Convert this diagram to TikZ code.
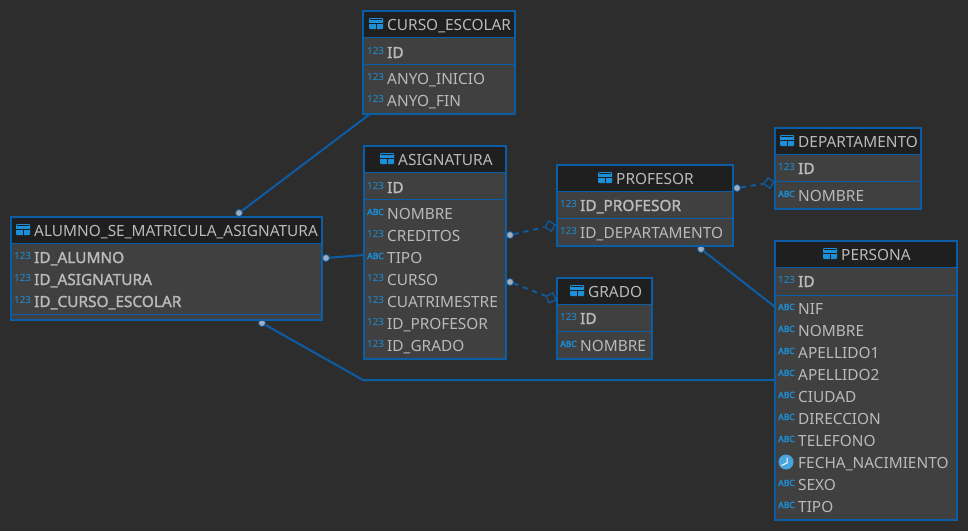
\documentclass[tikz,border=0pt]{standalone}
\usepackage{fontspec}
\setmainfont{Noto Sans}
\newfontfamily\fakebold[FakeBold=1.6]{Noto Sans}
\newfontfamily\iconbold[FakeBold=2.6]{Noto Sans}
\usetikzlibrary{shapes.geometric}
\definecolor{bgc}{HTML}{2D2D2D}
\definecolor{bodyc}{HTML}{404040}
\definecolor{headc}{HTML}{1F1F1F}
\definecolor{linec}{HTML}{0B5DA6}
\definecolor{iconc}{HTML}{1B8FD8}
\definecolor{txtc}{HTML}{BABABA}
\definecolor{dotc}{HTML}{A3ACB8}
\tikzset{
  x=1pt,y=-1pt,
  tablebody/.style={draw=linec,line width=2pt,fill=bodyc,rectangle,inner sep=0pt},
  head/.style={fill=headc,draw=none},
  sep/.style={draw=linec,line width=.8pt},
  ftext/.style={anchor=base west,inner sep=0pt,text=txtc,font=\fontsize{15.4}{17}\selectfont},
  fkey/.style={ftext,font=\fontsize{15.4}{17}\selectfont\fakebold},
  numicon/.style={anchor=base west,inner sep=0pt,text=iconc,font=\fontsize{9.8}{12}\selectfont},
  abcicon/.style={anchor=base west,inner sep=0pt,text=iconc,font=\fontsize{8.6}{10}\selectfont\iconbold},
  conn/.style={draw=linec,line width=2pt},
  dashconn/.style={conn,dash pattern=on 5pt off 5pt},
  enddot/.style={circle,fill=dotc,draw=linec,line width=.8pt,inner sep=0pt,minimum size=7pt},
  enddiam/.style={diamond,draw=linec,line width=1.2pt,fill=bgc,inner sep=0pt,minimum size=11pt},
}
% id x1 y1 x2 y2 yheader title-icon-x title
\newcommand{\ftable}[8]{%
  \node[tablebody,minimum width={#4-#2},minimum height={#5-#3}] (#1) at ({(#2+#4)/2},{(#3+#5)/2}) {};
  \fill[head] (#2+1,#3+1) rectangle (#4-1,#6);
  \draw[sep] (#2,#6) -- (#4,#6);
  \draw[linec,line width=2pt] (#2,#3) rectangle (#4,#5);
  \fill[iconc,rounded corners=1pt] (#7,#3+7) rectangle (#7+14,#3+18);
  \draw[headc,line width=.8pt] (#7,#3+12.5) -- (#7+14,#3+12.5) (#7+7,#3+12.5) -- (#7+7,#3+18);
  \fill[headc] (#7+1,#3+8.3) rectangle (#7+13,#3+9.3);
  \node[ftext] (#1-title) at (#7+18,#3+19) {#8};
}
\newcommand{\fsep}[3]{\draw[sep] (#1,#3) -- (#2,#3);}
\newcommand{\fnum}[5]{%
  \node[numicon] (#1-i) at (#2,#3+2) {123};
  \node[#4] (#1) at (#2+20,#3+6) {#5};}
\newcommand{\fabc}[5]{%
  \node[abcicon] (#1-i) at (#2,#3+2) {ABC};
  \node[#4] (#1) at (#2+20,#3+6) {#5};}
\begin{document}
\begin{tikzpicture}
\useasboundingbox (0,0) rectangle (968,531);
\fill[bgc] (0,0) rectangle (968,531);

% connector ends
\node[enddot] (d1) at (239,213) {};
\coordinate (e1) at (370,114);
\node[enddot] (d2) at (326,258) {};
\coordinate (e2) at (364,255);
\node[enddot] (d3) at (262,323) {};
\coordinate (b3) at (363,380);
\coordinate (e3) at (775,380);
\node[enddot] (d4) at (510,235) {};
\node[enddiam,rotate=13] (m4) at (550,226) {};
\node[enddot] (d5) at (510,282) {};
\node[enddiam,rotate=-21] (m5) at (551,298) {};
\node[enddot] (d6) at (737,188) {};
\node[enddiam,rotate=9] (m6) at (769,183) {};
\node[enddot] (d7) at (701,249) {};
\coordinate (e7) at (775,307);

\draw[conn] (d1) -- (e1);
\draw[conn] (d2) -- (e2);
\draw[conn] (d3) -- (b3) -- (e3);
\draw[dashconn] (d4) -- (m4);
\draw[dashconn] (d5) -- (m5);
\draw[dashconn] (d6) -- (m6);
\draw[conn] (d7) -- (e7);

% CURSO_ESCOLAR
\ftable{curso}{363}{11}{515}{114}{37}{369}{CURSO\_ESCOLAR}
\fsep{363}{515}{64}
\fnum{curso-1}{367}{52}{fkey}{ID}
\fnum{curso-2}{367}{78}{ftext}{ANYO\_INICIO}
\fnum{curso-3}{367}{100}{ftext}{ANYO\_FIN}

% ASIGNATURA
\ftable{asig}{364}{146}{506}{359}{172}{380}{ASIGNATURA}
\fsep{364}{506}{199}
\fnum{asig-1}{367}{187}{fkey}{ID}
\fabc{asig-2}{367}{213}{ftext}{NOMBRE}
\fnum{asig-3}{367}{235}{ftext}{CREDITOS}
\fabc{asig-4}{367}{257}{ftext}{TIPO}
\fnum{asig-5}{367}{279}{ftext}{CURSO}
\fnum{asig-6}{367}{301}{ftext}{CUATRIMESTRE}
\fnum{asig-7}{367}{323}{ftext}{ID\_PROFESOR}
\fnum{asig-8}{367}{345}{ftext}{ID\_GRADO}

% ALUMNO_SE_MATRICULA_ASIGNATURA
\ftable{alumno}{11}{217}{322}{320}{243}{16}{ALUMNO\_SE\_MATRICULA\_ASIGNATURA}
\fsep{11}{322}{314}
\fnum{alumno-1}{14}{257}{fkey}{ID\_ALUMNO}
\fnum{alumno-2}{14}{279}{fkey}{ID\_ASIGNATURA}
\fnum{alumno-3}{14}{301}{fkey}{ID\_CURSO\_ESCOLAR}

% PROFESOR
\ftable{prof}{557}{165}{733}{246}{191}{598}{PROFESOR}
\fsep{557}{733}{218}
\fnum{prof-1}{560}{205}{fkey}{ID\_PROFESOR}
\fnum{prof-2}{560}{232}{ftext}{ID\_DEPARTAMENTO}

% GRADO
\ftable{grado}{557}{278}{652}{359}{304}{570}{GRADO}
\fsep{557}{652}{331}
\fnum{grado-1}{560}{318}{fkey}{ID}
\fabc{grado-2}{560}{345}{ftext}{NOMBRE}

% DEPARTAMENTO
\ftable{depto}{775}{128}{921}{209}{154}{780}{DEPARTAMENTO}
\fsep{775}{921}{181}
\fnum{depto-1}{778}{168}{fkey}{ID}
\fabc{depto-2}{778}{195}{ftext}{NOMBRE}

% PERSONA
\ftable{persona}{775}{241}{957}{520}{267}{823}{PERSONA}
\fsep{775}{957}{295}
\fnum{persona-1}{778}{281}{fkey}{ID}
\fabc{persona-2}{778}{308}{ftext}{NIF}
\fabc{persona-3}{778}{330}{ftext}{NOMBRE}
\fabc{persona-4}{778}{352}{ftext}{APELLIDO1}
\fabc{persona-5}{778}{374}{ftext}{APELLIDO2}
\fabc{persona-6}{778}{396}{ftext}{CIUDAD}
\fabc{persona-7}{778}{418}{ftext}{DIRECCION}
\fabc{persona-8}{778}{440}{ftext}{TELEFONO}
\node[ftext] (persona-9) at (798,468) {FECHA\_NACIMIENTO};
\fill[iconc!80!white] (786,462) circle (7.5);
\draw[white,line width=1pt] (787,457.5) -- (787,463) -- (781.5,465.5);
\fabc{persona-10}{778}{484}{ftext}{SEXO}
\fabc{persona-11}{778}{506}{ftext}{TIPO}
\end{tikzpicture}
\end{document}
